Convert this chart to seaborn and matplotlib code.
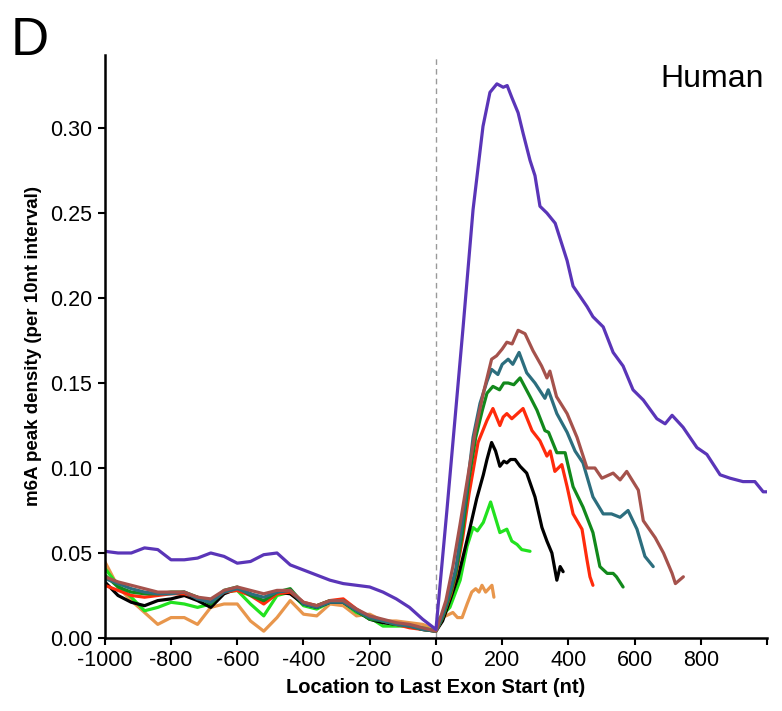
import numpy as np
import pandas as pd
import matplotlib
matplotlib.use("Agg")
import matplotlib.pyplot as plt
import seaborn as sns

# ---------------- data ----------------
left_x = [-1000, -960, -920, -880, -840, -800, -760, -720, -680, -640, -600, -560, -520,
          -480, -440, -400, -360, -320, -280, -240, -200, -160, -120, -80, -40, 0]

purple_left = [0.051, 0.050, 0.050, 0.053, 0.052, 0.046, 0.046, 0.047, 0.050, 0.048, 0.044, 0.045, 0.049,
               0.050, 0.043, 0.040, 0.037, 0.034, 0.032, 0.031, 0.030, 0.027, 0.023, 0.018, 0.011, 0.005]
brown_left = [0.036, 0.033, 0.031, 0.029, 0.027, 0.027, 0.027, 0.024, 0.023, 0.028, 0.030, 0.028, 0.026,
              0.028, 0.028, 0.021, 0.019, 0.022, 0.022, 0.017, 0.013, 0.011, 0.009, 0.008, 0.006, 0.004]
teal_left = [0.035, 0.032, 0.029, 0.027, 0.026, 0.026, 0.027, 0.023, 0.021, 0.027, 0.029, 0.026, 0.024,
             0.027, 0.028, 0.020, 0.018, 0.021, 0.021, 0.016, 0.012, 0.010, 0.008, 0.007, 0.005, 0.004]
green_left = [0.037, 0.030, 0.027, 0.026, 0.026, 0.027, 0.027, 0.024, 0.020, 0.028, 0.030, 0.025, 0.022,
              0.027, 0.029, 0.020, 0.019, 0.022, 0.022, 0.016, 0.011, 0.010, 0.008, 0.007, 0.005, 0.004]
red_left = [0.031, 0.028, 0.025, 0.024, 0.025, 0.026, 0.026, 0.024, 0.021, 0.027, 0.028, 0.025, 0.020,
            0.026, 0.027, 0.021, 0.019, 0.022, 0.023, 0.017, 0.012, 0.010, 0.008, 0.006, 0.005, 0.004]
black_left = [0.033, 0.025, 0.021, 0.019, 0.022, 0.023, 0.025, 0.022, 0.018, 0.026, 0.029, 0.026, 0.021,
              0.027, 0.026, 0.020, 0.018, 0.021, 0.021, 0.016, 0.011, 0.009, 0.008, 0.007, 0.005, 0.004]
lgreen_left = [0.041, 0.031, 0.024, 0.016, 0.018, 0.021, 0.020, 0.018, 0.020, 0.027, 0.028, 0.020, 0.013,
               0.025, 0.027, 0.019, 0.017, 0.021, 0.021, 0.015, 0.012, 0.007, 0.007, 0.007, 0.006, 0.004]
orange_left = [0.045, 0.030, 0.022, 0.015, 0.008, 0.012, 0.012, 0.008, 0.018, 0.020, 0.020, 0.010, 0.004,
               0.012, 0.022, 0.014, 0.013, 0.020, 0.019, 0.013, 0.014, 0.010, 0.010, 0.009, 0.008, 0.005]

purple_rx = [33, 82, 112, 142, 163, 184, 203, 215, 229, 248, 263, 284, 299, 314, 335, 360, 396, 414,
             456, 474, 505, 535, 565, 595, 626, 667, 692, 713, 746, 788, 818, 858, 888, 927, 963, 988, 1000]
purple_ry = [0.075, 0.183, 0.252, 0.301, 0.321, 0.326, 0.324, 0.325, 0.318, 0.309, 0.297, 0.281, 0.272,
             0.254, 0.250, 0.244, 0.222, 0.207, 0.195, 0.189, 0.183, 0.168, 0.160, 0.146, 0.140, 0.129,
             0.126, 0.131, 0.124, 0.112, 0.108, 0.096, 0.094, 0.092, 0.092, 0.086, 0.086]

brown_rx = [12, 30, 51, 72, 93, 118, 143, 168, 183, 200, 214, 230, 248, 269, 293, 319, 335, 344, 364,
            396, 426, 456, 480, 501, 535, 556, 576, 611, 626, 662, 687, 713, 723, 747]
brown_ry = [0.011, 0.022, 0.042, 0.066, 0.091, 0.121, 0.144, 0.164, 0.166, 0.170, 0.174, 0.173, 0.181,
            0.179, 0.169, 0.160, 0.153, 0.157, 0.142, 0.132, 0.118, 0.100, 0.100, 0.094, 0.097, 0.093,
            0.098, 0.087, 0.069, 0.059, 0.050, 0.038, 0.032, 0.036]

teal_rx = [20, 45, 60, 80, 93, 112, 133, 154, 168, 187, 200, 218, 232, 251, 274, 299, 329, 339, 365,
           396, 420, 444, 474, 505, 530, 556, 580, 607, 622, 631, 656]
teal_ry = [0.013, 0.029, 0.041, 0.068, 0.087, 0.118, 0.138, 0.151, 0.158, 0.155, 0.161, 0.164, 0.161,
           0.168, 0.156, 0.150, 0.141, 0.146, 0.132, 0.121, 0.110, 0.103, 0.083, 0.073, 0.073, 0.071,
           0.075, 0.064, 0.054, 0.048, 0.042]

green_rx = [20, 45, 60, 80, 100, 120, 140, 154, 172, 192, 205, 218, 235, 254, 284, 305, 329, 340, 365,
            390, 414, 444, 474, 495, 517, 535, 545, 565]
green_ry = [0.012, 0.027, 0.038, 0.062, 0.094, 0.118, 0.134, 0.144, 0.148, 0.146, 0.150, 0.150, 0.149,
            0.153, 0.142, 0.134, 0.122, 0.121, 0.109, 0.109, 0.089, 0.077, 0.062, 0.042, 0.038, 0.038,
            0.036, 0.030]

red_rx = [20, 45, 60, 80, 100, 127, 154, 172, 193, 203, 214, 229, 263, 290, 314, 335, 345, 359, 380,
          396, 414, 441, 456, 465, 474]
red_ry = [0.012, 0.026, 0.037, 0.058, 0.085, 0.115, 0.128, 0.135, 0.125, 0.130, 0.132, 0.129, 0.135,
          0.122, 0.116, 0.107, 0.110, 0.098, 0.102, 0.089, 0.073, 0.064, 0.046, 0.036, 0.031]

black_rx = [20, 42, 67, 82, 103, 123, 143, 154, 168, 180, 193, 205, 214, 225, 239, 254, 274, 299, 320,
            335, 350, 365, 375, 384]
black_ry = [0.010, 0.022, 0.036, 0.048, 0.065, 0.082, 0.096, 0.105, 0.115, 0.110, 0.101, 0.104, 0.103,
            0.105, 0.105, 0.101, 0.097, 0.083, 0.065, 0.057, 0.050, 0.034, 0.042, 0.039]

lgreen_rx = [12, 42, 73, 94, 112, 125, 143, 165, 193, 214, 229, 245, 259, 284]
lgreen_ry = [0.012, 0.018, 0.034, 0.054, 0.065, 0.063, 0.068, 0.080, 0.062, 0.064, 0.057, 0.055,
             0.052, 0.051]

orange_rx = [12, 30, 51, 65, 79, 94, 108, 120, 130, 139, 150, 169, 175]
orange_ry = [0.012, 0.013, 0.015, 0.012, 0.012, 0.020, 0.027, 0.029, 0.027, 0.031, 0.027, 0.031, 0.024]

series_names = ["orange", "lgreen", "black", "red", "green", "teal", "brown", "purple"]
palette = {"purple": "#5a35b8", "brown": "#a5524c", "teal": "#2c6e7e", "green": "#12891c",
           "red": "#ff2b0c", "black": "#000000", "lgreen": "#22e21f", "orange": "#e8964c"}

data = {
    "purple": (purple_left, purple_rx, purple_ry),
    "brown": (brown_left, brown_rx, brown_ry),
    "teal": (teal_left, teal_rx, teal_ry),
    "green": (green_left, green_rx, green_ry),
    "red": (red_left, red_rx, red_ry),
    "black": (black_left, black_rx, black_ry),
    "lgreen": (lgreen_left, lgreen_rx, lgreen_ry),
    "orange": (orange_left, orange_rx, orange_ry),
}

rows = []
for name in series_names:
    ly, rx, ry = data[name]
    xs = list(left_x) + list(rx)
    ys = list(ly) + list(ry)
    for i, (xv, yv) in enumerate(zip(xs, ys)):
        rows.append({"x": xv, "y": yv, "series": name, "order": i})
df = pd.DataFrame(rows)

# ---------------- plot ----------------
sns.set_theme(style="white")
plt.rcParams["font.family"] = ["Liberation Sans", "DejaVu Sans"]
plt.rcParams["text.color"] = "black"
plt.rcParams["axes.labelcolor"] = "black"

fig = plt.figure(figsize=(7.82, 7.11), dpi=100)
ax = fig.add_axes([0.134, 0.1027, 0.847, 0.82])

ax.axvline(0, color="#999999", lw=1.0, ls=(0, (4, 3)), zorder=0)

sns.lineplot(data=df, x="x", y="y", hue="series", hue_order=series_names, palette=palette,
             estimator=None, sort=False, units="series", linewidth=2.3, legend=False, ax=ax)

ax.set_xlim(-1000, 1000)
ax.set_ylim(0, 0.343)
xt = list(range(-1000, 1001, 200))
ax.set_xticks(xt)
ax.set_xticklabels([str(v) if v != 1000 else "" for v in xt])
yt = [0.0, 0.05, 0.10, 0.15, 0.20, 0.25, 0.30]
ax.set_yticks(yt)
ax.set_yticklabels([f"{v:.2f}" for v in yt])

for s in ["top", "right"]:
    ax.spines[s].set_visible(False)
for s in ["left", "bottom"]:
    ax.spines[s].set_color("black")
    ax.spines[s].set_linewidth(1.8)
ax.tick_params(axis="both", direction="out", length=5, width=1.5, color="black",
               labelsize=15.5, labelcolor="black", pad=4, bottom=True, left=True)

ax.set_xlabel("Location to Last Exon Start (nt)", fontsize=14.5, fontweight="bold", labelpad=5)
ax.set_ylabel("m6A peak density (per 10nt interval)", fontsize=13.5, fontweight="bold", labelpad=6)

ax.text(0.995, 0.985, "Human", transform=ax.transAxes, ha="right", va="top", fontsize=23,
        color="black")
fig.text(0.014, 0.978, "D", ha="left", va="top", fontsize=38, color="black")

fig.savefig("out.png", dpi=100)
